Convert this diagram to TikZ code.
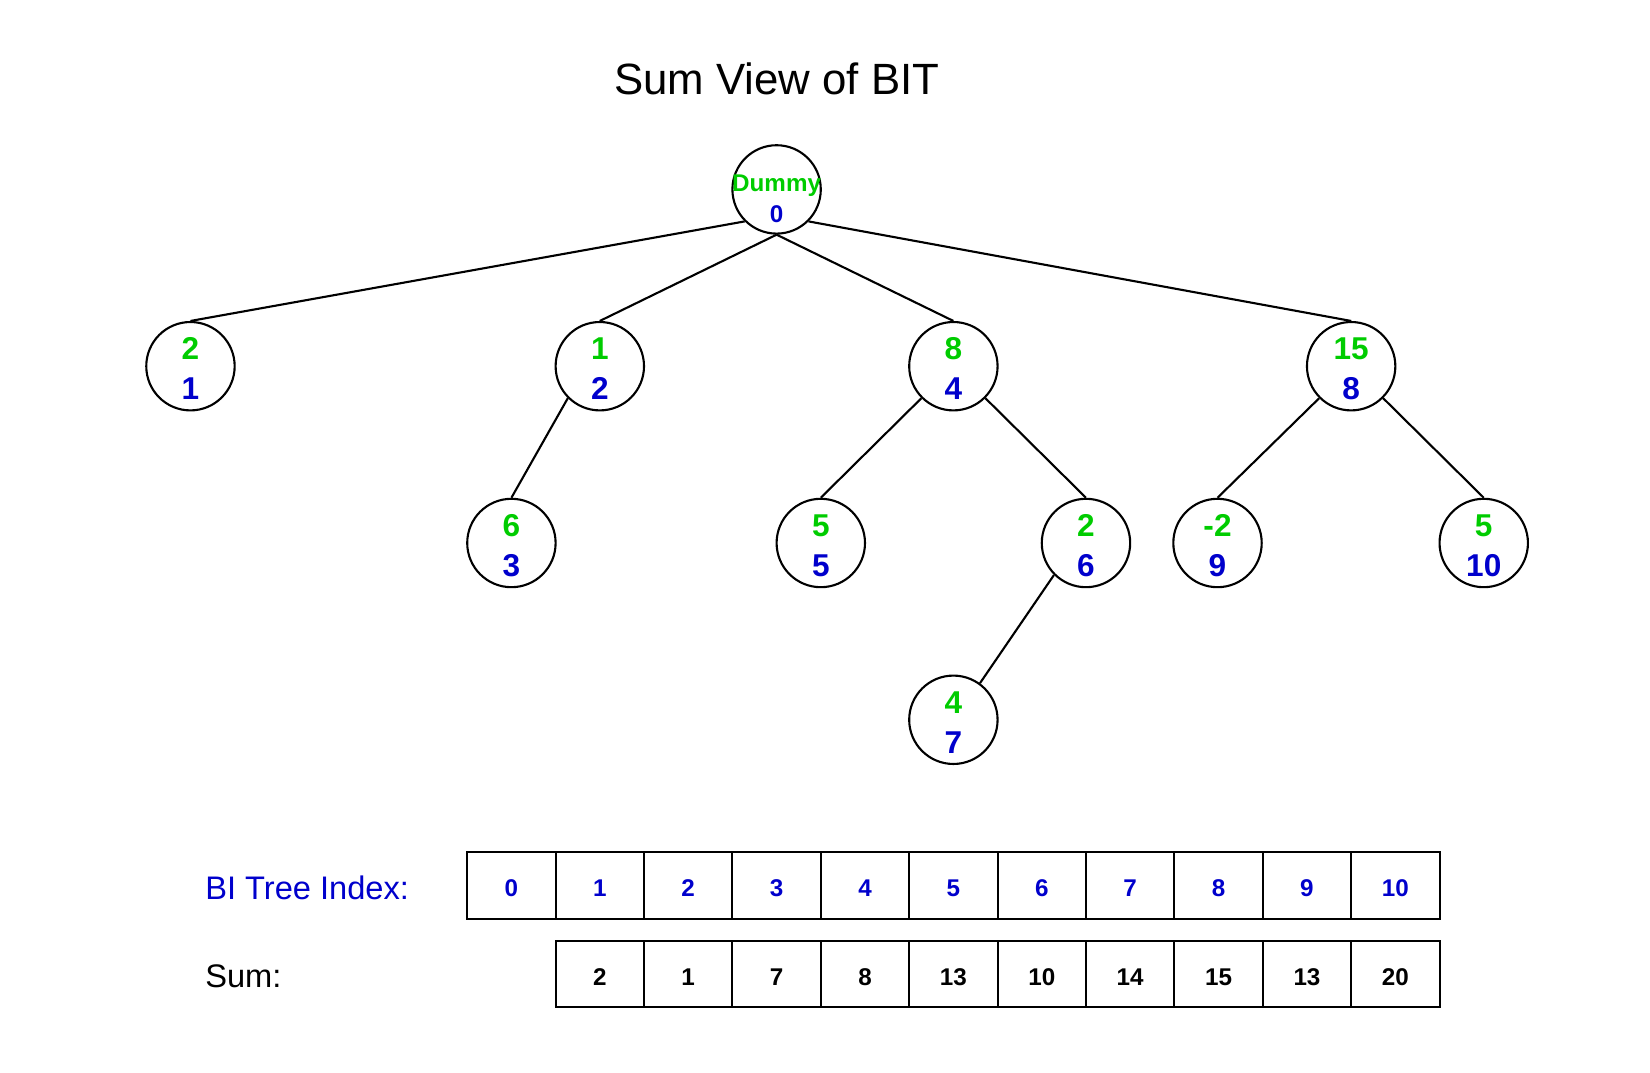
\documentclass[tikz,border=0pt]{standalone}
\usepackage{fontspec}
\setmainfont{Liberation Sans}
\definecolor{valgreen}{RGB}{0,204,0}
\definecolor{idxblue}{RGB}{0,0,204}
\newcommand{\noval}[2]{\begin{tabular}[b]{@{}c@{}}\textcolor{valgreen}{#1}\\\textcolor{idxblue}{#2}\end{tabular}}
\begin{document}
\begin{tikzpicture}[
            x=0.5pt, y=-0.5pt,
            noarvore/.style={shape=circle, draw=black, line width=1pt, minimum size=42pt, inner sep=0pt,
                text height=31.8pt, text depth=0pt, font=\fontsize{15}{19}\selectfont\bfseries},
            ramo/.style={line width=1pt},
            celula/.style={shape=rectangle, draw=black, line width=0.9pt, minimum width=42pt,
                minimum height=31.5pt, inner sep=0pt, text height=10.8pt, text depth=0pt,
                font=\fontsize{11.5}{13}\selectfont\bfseries},
            rotulo/.style={anchor=west, font=\fontsize{15.5}{18}\selectfont},
        ]
        \useasboundingbox (0, 0) rectangle (1568, 1019);

        \node[font=\fontsize{20.8}{24}\selectfont] (titulo) at (738, 75) {Sum View of BIT};

        \node[noarvore, text height=31.2pt, font=\fontsize{11.5}{14.5}\selectfont\bfseries] (n0) at (738, 180)
            {\noval{\makebox[0pt]{Dummy}}{0}};
        \node[noarvore] (n1) at (181, 348) {\noval{2}{1}};
        \node[noarvore] (n2) at (570, 348) {\noval{1}{2}};
        \node[noarvore] (n4) at (906, 348) {\noval{8}{4}};
        \node[noarvore] (n8) at (1284, 348) {\noval{15}{8}};
        \node[noarvore] (n3) at (486, 516) {\noval{6}{3}};
        \node[noarvore] (n5) at (780, 516) {\noval{5}{5}};
        \node[noarvore] (n6) at (1032, 516) {\noval{2}{6}};
        \node[noarvore] (n9) at (1157, 516) {\noval{-2}{9}};
        \node[noarvore] (n10) at (1410, 516) {\noval{5}{10}};
        \node[noarvore] (n7) at (906, 684) {\noval{4}{7}};

        \draw[ramo] (n0.south west) -- (n1.north);
        \draw[ramo] (n0.south) -- (n2.north);
        \draw[ramo] (n0.south) -- (n4.north);
        \draw[ramo] (n0.south east) -- (n8.north);
        \draw[ramo] (n2.south west) -- (n3.north);
        \draw[ramo] (n4.south west) -- (n5.north);
        \draw[ramo] (n4.south east) -- (n6.north);
        \draw[ramo] (n6.south west) -- (n7.54);
        \draw[ramo] (n8.south west) -- (n9.north);
        \draw[ramo] (n8.south east) -- (n10.north);

        \node[rotulo, text=idxblue] (indice) at (188, 844) {BI Tree Index:};
        \node[rotulo] (soma) at (188, 928) {Sum:};

        \node[celula, text=idxblue] (i0) at (486, 841.5) {0};
        \node[celula, text=idxblue] (i1) at (570, 841.5) {1};
        \node[celula, text=idxblue] (i2) at (654, 841.5) {2};
        \node[celula, text=idxblue] (i3) at (738, 841.5) {3};
        \node[celula, text=idxblue] (i4) at (822, 841.5) {4};
        \node[celula, text=idxblue] (i5) at (906, 841.5) {5};
        \node[celula, text=idxblue] (i6) at (990, 841.5) {6};
        \node[celula, text=idxblue] (i7) at (1074, 841.5) {7};
        \node[celula, text=idxblue] (i8) at (1158, 841.5) {8};
        \node[celula, text=idxblue] (i9) at (1242, 841.5) {9};
        \node[celula, text=idxblue] (i10) at (1326, 841.5) {10};

        \node[celula] (s1) at (570, 925.5) {2};
        \node[celula] (s2) at (654, 925.5) {1};
        \node[celula] (s3) at (738, 925.5) {7};
        \node[celula] (s4) at (822, 925.5) {8};
        \node[celula] (s5) at (906, 925.5) {13};
        \node[celula] (s6) at (990, 925.5) {10};
        \node[celula] (s7) at (1074, 925.5) {14};
        \node[celula] (s8) at (1158, 925.5) {15};
        \node[celula] (s9) at (1242, 925.5) {13};
        \node[celula] (s10) at (1326, 925.5) {20};

    \end{tikzpicture}
\end{document}
